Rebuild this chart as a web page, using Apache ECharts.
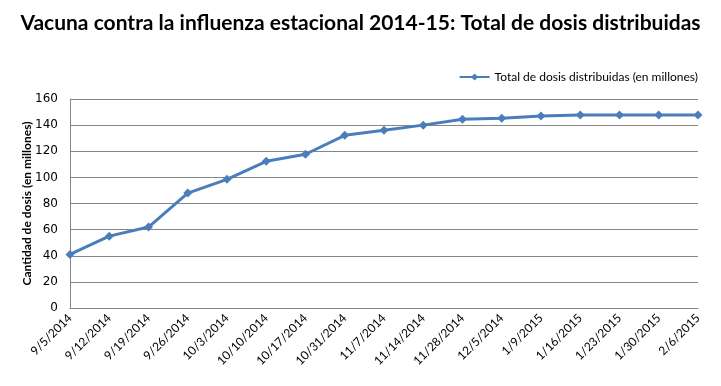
<!DOCTYPE html>
<html><head><meta charset="utf-8">
<script src="https://cdn.jsdelivr.net/npm/echarts@6/dist/echarts.min.js"></script>
<style>html,body{margin:0;padding:0;background:#fff}#c{width:721px;height:386px}</style>
</head><body><div id="c"></div>
<script>
var categories = ['9/5/2014','9/12/2014','9/19/2014','9/26/2014','10/3/2014','10/10/2014','10/17/2014','10/31/2014','11/7/2014','11/14/2014','11/28/2014','12/5/2014','1/9/2015','1/16/2015','1/23/2015','1/30/2015','2/6/2015'];
var doses = [41, 55, 62, 88, 98.5, 112.3, 117.7, 132.2, 136, 140, 144.5, 145.2, 147, 147.8, 147.8, 147.8, 147.8];
var seriesName = 'Total de dosis distribuidas (en millones)';
var titleText = 'Vacuna contra la influenza estacional 2014-15: Total de dosis distribuidas';
var yAxisName = 'Cantidad de dosis (en millones)';

var chart = echarts.init(document.getElementById('c'));
chart.setOption({
  animation: false,
  title: {text: titleText, left: 'center', top: 8,
    textStyle: {fontFamily: 'Lato', fontWeight: 'bold', fontSize: 21, color: '#000'}},
  legend: {data: [seriesName], right: 18, top: 66, itemWidth: 30, itemHeight: 9,
    textStyle: {fontFamily: 'Lato', fontSize: 12, color: '#000'}},
  grid: {left: 70, right: 23, top: 99, bottom: 78},
  xAxis: {type: 'category', data: categories, boundaryGap: false,
    axisLine: {lineStyle: {color: '#868686'}}, axisTick: {show: false},
    axisLabel: {rotate: 45, color: '#000', fontFamily: 'Lato', fontSize: 12, margin: 8, interval: 0},
    splitLine: {show: false}},
  yAxis: {type: 'value', min: 0, max: 160, interval: 20,
    name: yAxisName, nameLocation: 'middle', nameGap: 37, nameRotate: 90, nameMoveOverlap: false,
    nameTextStyle: {fontFamily: 'Lato', fontWeight: 'bold', fontSize: 12, color: '#000'},
    axisLine: {show: true, lineStyle: {color: '#868686'}}, axisTick: {show: false},
    axisLabel: {color: '#000', fontFamily: 'DejaVu Sans', fontSize: 12, margin: 12},
    splitLine: {lineStyle: {color: '#868686', width: 1}}},
  series: [{name: seriesName, type: 'line', data: doses, symbol: 'diamond', symbolSize: 9,
    lineStyle: {color: '#4a7ebb', width: 3}, itemStyle: {color: '#4a7ebb'}}]
});
</script></body></html>
